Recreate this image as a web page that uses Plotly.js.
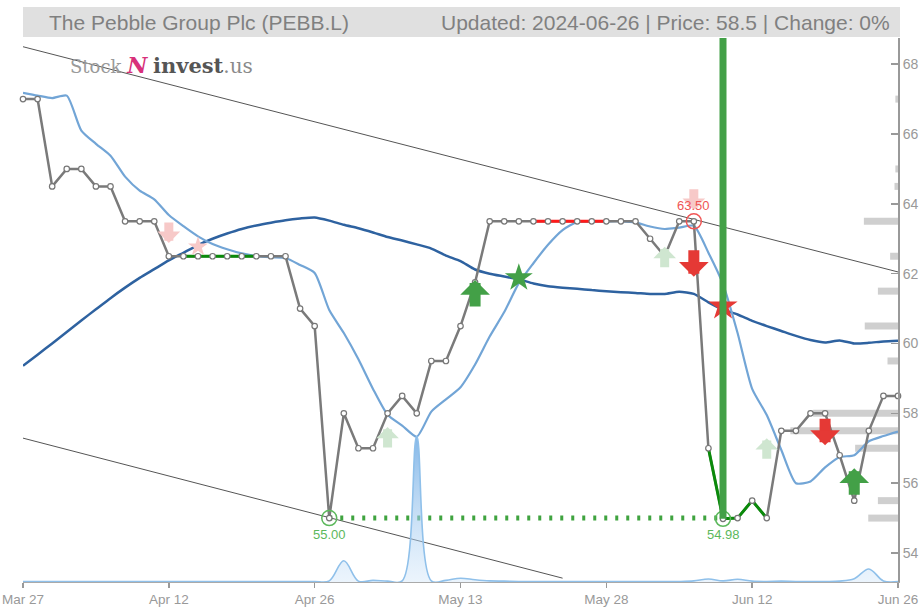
<!DOCTYPE html>
<html>
<head>
<meta charset="utf-8">
<script src="https://cdn.plot.ly/plotly-3.0.1.min.js"></script>
<style>
html,body{margin:0;padding:0;background:#fff;}
#chart{width:922px;height:608px;}
</style>
</head>
<body>
<div id="chart"></div>
<script>
// ---------- DATA ----------
const tickIdx = [0, 10, 20, 30, 40, 50, 60];
const tickLabels = ["Mar 27", "Apr 12", "Apr 26", "May 13", "May 28", "Jun 12", "Jun 26"];
const priceTicks = [54, 56, 58, 60, 62, 64, 66, 68];

const closePrice = [67.0, 67.0, 64.5, 65.0, 65.0, 64.5, 64.5, 63.5, 63.5, 63.5,
  62.5, 62.5, 62.5, 62.5, 62.5, 62.5, 62.5, 62.5, 62.5, 61.0,
  60.5, 55.0, 58.0, 57.0, 57.0, 58.0, 58.5, 58.0, 59.5, 59.5,
  60.5, 61.75, 63.5, 63.5, 63.5, 63.5, 63.5, 63.5, 63.5, 63.5,
  63.5, 63.5, 63.5, 63.0, 62.5, 63.5, 63.5, 57.0, 54.98, 55.0,
  55.5, 55.0, 57.5, 57.5, 58.0, 58.0, 56.8, 55.5, 57.5, 58.5, 58.5];

const maSlow = [59.36, 59.68, 60.0, 60.33, 60.66, 60.98, 61.3, 61.6, 61.88, 62.13,
  62.38, 62.6, 62.82, 63.0, 63.15, 63.28, 63.38, 63.46, 63.53, 63.58,
  63.61, 63.52, 63.4, 63.3, 63.18, 63.05, 62.95, 62.84, 62.72, 62.52,
  62.36, 62.12, 62.0, 61.92, 61.84, 61.72, 61.64, 61.6, 61.57, 61.53,
  61.5, 61.47, 61.45, 61.42, 61.42, 61.48, 61.42, 61.18, 60.97, 60.83,
  60.65, 60.5, 60.36, 60.22, 60.1, 60.03, 60.09, 60.0, 60.02, 60.06, 60.08];

const maFast = [67.18, 67.1, 67.03, 67.1, 66.1, 65.72, 65.38, 64.78, 64.38, 64.13,
  63.68, 63.36, 63.07, 62.85, 62.7, 62.58, 62.5, 62.47, 62.45, 62.25,
  62.02, 60.96, 60.3, 59.55, 58.7, 57.96, 57.65, 57.33, 58.05, 58.4,
  58.75, 59.4, 60.2, 60.9, 61.73, 62.3, 62.83, 63.25, 63.48, 63.5,
  63.5, 63.5, 63.47, 63.35, 63.28, 63.32, 63.37, 62.6, 61.7, 60.3,
  58.7, 57.95, 56.95, 56.0, 56.05, 56.45, 56.75, 56.8, 57.2, 57.35, 57.48];

// daily volume (thousands of shares)
const volume = [5, 5, 5, 5, 5, 5, 5, 5, 5, 5,
  5, 5, 5, 5, 5, 5, 5, 5, 5, 5,
  5, 10, 195, 8, 15, 8, 10, 1340, 10, 15,
  35, 20, 10, 8, 5, 5, 5, 5, 5, 5,
  5, 5, 5, 5, 5, 5, 10, 28, 10, 25,
  8, 5, 8, 5, 5, 5, 8, 30, 120, 10, 5];

// volume profile by price level
const profilePrice = [67.0, 65.0, 64.5, 63.5, 62.5, 61.5, 60.5, 59.5, 58.0, 57.5, 57.0, 55.5, 55.0];
const profileVolume = [3, 3, 4, 39, 9, 23, 38, 12, 97, 123, 49, 23, 34];

// trend channel
const upperTrendIdx = [0, 60], upperTrendLvl = [68.5, 62.05];
const lowerTrendIdx = [0, 37], lowerTrendLvl = [57.29, 53.28];

// support / resistance
const supportIdx = [21, 48], supportLvl = [55.0, 55.0];
const greenLevelIdx = [11, 16], greenLevelLvl = [62.5, 62.5];
const redLevelIdx = [35, 40], redLevelLvl = [63.5, 63.5];
const sellSegFrom = 47, sellSegTo = 51;

// signal markers
const lowIdx = [21, 48], lowLvl = [55.0, 54.98], lowText = ["55.00", "54.98"];
const highIdx = [46], highLvl = [63.5], highText = ["63.50"];
const signalIdx = 48, signalTop = 69;
const buyArrowIdx = [31, 57], buyArrowLvl = [61.82, 56.43];
const sellArrowIdx = [46, 55], sellArrowLvl = [61.91, 57.09];
const weakBuyIdx = [25, 44, 51], weakBuyLvl = [57.61, 62.77, 57.29];
const weakSellIdx = [10, 46], weakSellLvl = [62.88, 63.83];
const buyStarIdx = [34], buyStarLvl = [61.88];
const sellStarIdx = [48], sellStarLvl = [61.07];
const weakSellStarIdx = [12], weakSellStarLvl = [62.77];

// ---------- BUILD ----------
const idx = closePrice.map((_, i) => i);
const GREEN = '#43a047', RED = '#e53935', PINK = '#f7c9c8', LGREEN = '#cfe6d0';

const traces = [];
// volume profile (base subplot x/y)
traces.push({type: 'bar', orientation: 'h', x: profileVolume, y: profilePrice, xaxis: 'x', yaxis: 'y',
  width: 0.2, marker: {color: '#cfcfcf'}, hoverinfo: 'skip'});

const P = {xaxis: 'x2', yaxis: 'y', hoverinfo: 'skip', mode: 'lines'};
traces.push(Object.assign({}, P, {x: upperTrendIdx, y: upperTrendLvl, line: {color: '#555', width: 1}}));
traces.push(Object.assign({}, P, {x: lowerTrendIdx, y: lowerTrendLvl, line: {color: '#555', width: 1}}));
traces.push(Object.assign({}, P, {x: idx, y: maSlow, line: {color: '#2e62a0', width: 2.5, shape: 'spline', smoothing: 0.6}}));
traces.push(Object.assign({}, P, {x: idx, y: maFast, line: {color: '#72a5d6', width: 2.2, shape: 'spline', smoothing: 0.6}}));
traces.push(Object.assign({}, P, {x: supportIdx, y: supportLvl, line: {color: '#3fa33f', width: 5, dash: '3px,8px'}}));
traces.push(Object.assign({}, P, {x: idx, y: closePrice, line: {color: '#7a7a7a', width: 2.5}}));
traces.push(Object.assign({}, P, {x: greenLevelIdx, y: greenLevelLvl, line: {color: '#0a8a0a', width: 3}}));
traces.push(Object.assign({}, P, {x: redLevelIdx, y: redLevelLvl, line: {color: '#ff1a1a', width: 3}}));
traces.push(Object.assign({}, P, {x: idx.slice(sellSegFrom, sellSegTo + 1), y: closePrice.slice(sellSegFrom, sellSegTo + 1),
  line: {color: '#0a8a0a', width: 3}}));
traces.push(Object.assign({}, P, {x: idx, y: closePrice, mode: 'markers', cliponaxis: false,
  marker: {size: 5.5, color: '#fff', line: {color: '#777', width: 1.2}}}));
traces.push(Object.assign({}, P, {x: lowIdx, y: lowLvl, mode: 'markers',
  marker: {symbol: 'circle-open', size: 15, color: '#5cb85c', line: {width: 1.5}}}));
traces.push(Object.assign({}, P, {x: highIdx, y: highLvl, mode: 'markers',
  marker: {symbol: 'circle-open', size: 15, color: '#f05555', line: {width: 1.5}}}));
traces.push(Object.assign({}, P, {x: weakSellStarIdx, y: weakSellStarLvl, mode: 'markers',
  marker: {symbol: 'star', size: 15, color: PINK}}));
traces.push(Object.assign({}, P, {x: buyStarIdx, y: buyStarLvl, mode: 'markers',
  marker: {symbol: 'star', size: 21, color: GREEN}}));
traces.push(Object.assign({}, P, {x: sellStarIdx, y: sellStarLvl, mode: 'markers',
  marker: {symbol: 'star', size: 22, color: RED}}));
traces.push(Object.assign({}, P, {x: [signalIdx, signalIdx], y: [closePrice[signalIdx], signalTop],
  line: {color: GREEN, width: 7}}));
// volume (overlay x2/y2)
traces.push({type: 'scatter', mode: 'lines', x: idx, y: volume, xaxis: 'x2', yaxis: 'y2', hoverinfo: 'skip',
  line: {color: '#8fc0ea', width: 1.6, shape: 'spline', smoothing: 1.0},
  fill: 'tozeroy',
  fillgradient: {type: 'vertical', colorscale: [[0, 'rgba(200,225,248,0.35)'], [1, 'rgba(110,170,228,0.85)']]}});

// annotations
const ann = [];
function arrow(i, lvl, up, color, big) {
  const len = big ? 28 : 22;
  ann.push({x: i, y: lvl, xref: 'x2', yref: 'y', text: '', showarrow: true, arrowhead: 1,
    arrowsize: big ? 0.45 : 0.42, arrowwidth: big ? 11 : 9, arrowcolor: color,
    ax: 0, ay: up ? len : -len, standoff: 0});
}
weakSellIdx.forEach((v, k) => arrow(v, weakSellLvl[k], false, PINK, false));
weakBuyIdx.forEach((v, k) => arrow(v, weakBuyLvl[k], true, LGREEN, false));
buyArrowIdx.forEach((v, k) => arrow(v, buyArrowLvl[k], true, GREEN, true));
sellArrowIdx.forEach((v, k) => arrow(v, sellArrowLvl[k], false, RED, true));
lowIdx.forEach((v, k) => ann.push({x: v, y: lowLvl[k], xref: 'x2', yref: 'y', text: lowText[k], showarrow: false,
  yshift: -16, font: {size: 13, color: '#5cb85c'}}));
highIdx.forEach((v, k) => ann.push({x: v, y: highLvl[k], xref: 'x2', yref: 'y', text: highText[k], showarrow: false,
  yshift: 16, font: {size: 13, color: '#f05555'}}));
// header texts
ann.push({xref: 'paper', yref: 'paper', x: 0.0274, y: 1.0294, xanchor: 'left', yanchor: 'middle', showarrow: false,
  text: 'The Pebble Group Plc (PEBB.L)', font: {size: 21, color: '#808080'}});
ann.push({xref: 'paper', yref: 'paper', x: 0.9931, y: 1.0294, xanchor: 'right', yanchor: 'middle', showarrow: false,
  text: 'Updated: 2024-06-26 | Price: 58.5 | Change: 0%', font: {size: 21, color: '#808080'}});
// logo
ann.push({xref: 'paper', yref: 'paper', x: 0.0514, y: 0.9504, xanchor: 'left', yanchor: 'middle', showarrow: false,
  text: '<span style="color:#9a9a9a">Stock</span> <b><i><span style="color:#d8307a;font-size:22px">N</span></i></b> <b><span style="color:#555;font-size:21px">invest</span></b><span style="color:#8a8a8a;font-size:20px">.us</span>',
  font: {size: 18, family: 'DejaVu Serif, serif', color: '#888'}});

const layout = {
  width: 922, height: 608,
  margin: {l: 23, r: 24, t: 38, b: 26},
  paper_bgcolor: '#fff', plot_bgcolor: '#fff',
  showlegend: false,
  font: {family: 'Liberation Sans, Arial, sans-serif', color: '#999'},
  xaxis: {range: [1000, 0], visible: false, fixedrange: true},
  xaxis2: {overlaying: 'x', anchor: 'y', side: 'bottom', range: [0, 60], tickvals: tickIdx, ticktext: tickLabels,
    ticks: 'outside', ticklen: 5, tickcolor: '#999', tickwidth: 1.5, showline: true, linecolor: '#aaa', linewidth: 1,
    showgrid: false, zeroline: false, tickfont: {size: 13.5, color: '#999'}},
  yaxis: {side: 'right', range: [53.17, 68.75], tickvals: priceTicks, ticks: 'inside', ticklen: 7, tickcolor: '#999',
    tickwidth: 1.5, showline: true, linecolor: '#999', linewidth: 2, showgrid: false, zeroline: false,
    tickfont: {size: 14, color: '#999'}},
  yaxis2: {overlaying: 'y', anchor: 'x2', range: [0, 5000], visible: false},
  shapes: [{type: 'rect', xref: 'paper', yref: 'paper', x0: 0, x1: 1.0023, y0: 1.0018, y1: 1.057,
    fillcolor: '#e0e0e0', line: {width: 0}, layer: 'below'}],
  annotations: ann
};

Plotly.newPlot('chart', traces, layout, {staticPlot: true, displayModeBar: false});
</script>
</body>
</html>
